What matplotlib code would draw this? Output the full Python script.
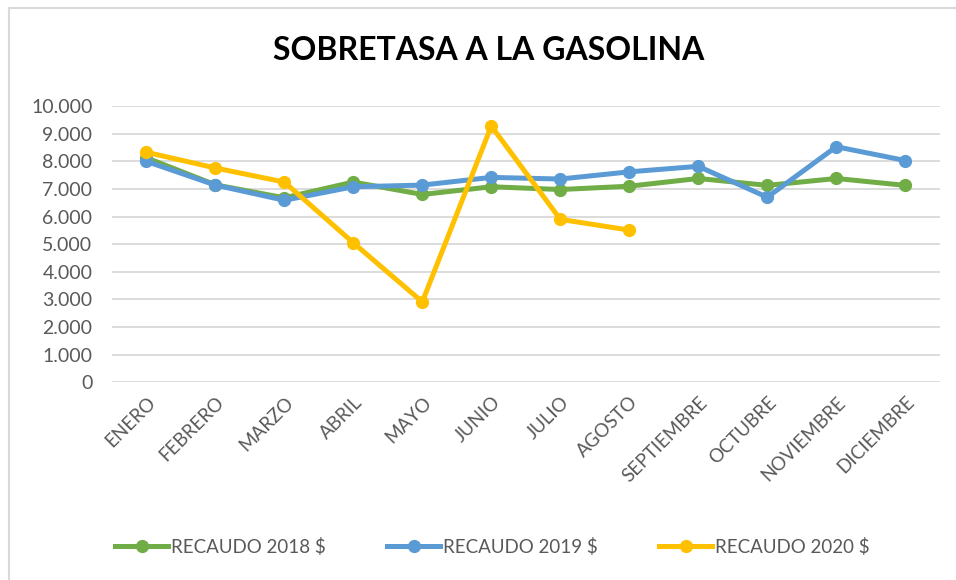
import matplotlib
matplotlib.use("Agg")
import matplotlib.pyplot as plt
from matplotlib.ticker import FuncFormatter
from matplotlib.lines import Line2D

months = ["ENERO", "FEBRERO", "MARZO", "ABRIL", "MAYO", "JUNIO", "JULIO",
          "AGOSTO", "SEPTIEMBRE", "OCTUBRE", "NOVIEMBRE", "DICIEMBRE"]
recaudo_2018 = [8130, 7150, 6680, 7250, 6800, 7080, 6980, 7100, 7380, 7130, 7380, 7130]
recaudo_2019 = [8000, 7140, 6590, 7080, 7140, 7420, 7360, 7620, 7820, 6700, 8530, 8030]
recaudo_2020 = [8330, 7760, 7250, 5050, 2910, 9280, 5900, 5510]
series_names = ["RECAUDO 2018 $", "RECAUDO 2019 $", "RECAUDO 2020 $"]
colors = ["#70AD47", "#5B9BD5", "#FFC000"]
yticks = list(range(0, 10001, 1000))

plt.rcParams['font.family'] = ['Lato', 'DejaVu Sans']

fig = plt.figure(figsize=(9.56, 5.8), dpi=100)
ax = fig.add_axes([0.117, 0.341, 0.866, 0.476])

x_all = list(range(len(months)))
for vals, name, c in zip([recaudo_2018, recaudo_2019, recaudo_2020], series_names, colors):
    ax.plot(x_all[:len(vals)], vals, color=c, lw=3.6, marker='o', markersize=8.5,
            solid_capstyle='round', solid_joinstyle='round', label=name, zorder=3)

ax.set_xlim(-0.5, len(months) - 0.5)
ax.set_ylim(0, 10000)
ax.set_yticks(yticks)
ax.yaxis.set_major_formatter(FuncFormatter(lambda v, p: f"{int(v):,}".replace(",", ".")))
ax.set_xticks(x_all)
ax.set_xticklabels(months, rotation=45, ha='right', rotation_mode='anchor')
ax.grid(axis='y', color='#D9D9D9', lw=1.3)
ax.set_axisbelow(True)
for s in ax.spines.values():
    s.set_visible(False)
ax.tick_params(length=0, colors='#595959')
ax.tick_params(axis='y', pad=14, labelsize=14)
ax.tick_params(axis='x', pad=8, labelsize=13.5)

fig.text(0.511, 0.913, "SOBRETASA A LA GASOLINA", ha='center', va='center',
         fontsize=23, fontweight='bold', color='black')

handles = [Line2D([0], [0], color=c, lw=3.6, marker='o', markersize=8.5) for c in colors]
fig.legend(handles, series_names, loc='center', bbox_to_anchor=(0.515, 0.057), ncol=3,
           frameon=False, fontsize=13.5, labelcolor='#595959', handlelength=2.8,
           handletextpad=0.15, columnspacing=3.3)

fig.add_artist(Line2D([0.0095, 0.0095], [0, 0.986], transform=fig.transFigure, color='#D9D9D9', lw=1.5))
fig.add_artist(Line2D([0.0095, 1.0], [0.986, 0.986], transform=fig.transFigure, color='#D9D9D9', lw=1.5))

fig.savefig("out.png", dpi=100)
